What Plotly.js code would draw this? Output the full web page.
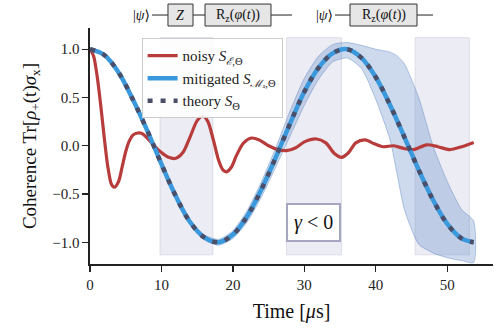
<!DOCTYPE html>
<html>
<head>
<meta charset="utf-8">
<script src="https://cdn.plot.ly/plotly-3.0.1.min.js"></script>
<style>
  html, body { margin: 0; padding: 0; background: #fff; }
  #graph { width: 498px; height: 332px; }
</style>
</head>
<body>
<div id="graph"></div>
<script>
// Values
const noisyTime = [0, 0.5, 1.0, 1.5, 2.0, 2.5, 3.0, 3.4, 4.0, 4.5, 5.0, 5.5, 6.0, 6.5, 7.2, 8.0, 9.0, 10.0,
  11.0, 12.0, 13.0, 14.0, 15.0, 15.8, 16.5, 17.3, 18.0, 18.6, 19.1, 19.8, 20.5, 21.5, 22.6, 23.7, 25.0,
  26.3, 27.5, 28.8, 30.0, 31.7, 33.0, 34.2, 35.2, 36.2, 37.2, 38.5, 39.8, 41.0, 42.5, 44.0, 45.3, 47.1,
  48.7, 50.3, 52.0, 53.7];
const noisyValues = [1.0, 0.93, 0.72, 0.42, 0.08, -0.22, -0.40, -0.43, -0.37, -0.22, -0.06, 0.05, 0.11, 0.13,
  0.13, 0.08, 0.0, -0.07, -0.12, -0.13, -0.07, 0.09, 0.26, 0.31, 0.25, 0.05, -0.15, -0.25, -0.27, -0.22,
  -0.10, 0.03, 0.08, 0.06, 0.0, -0.04, -0.05, -0.02, 0.04, 0.07, 0.03, -0.08, -0.12, -0.07, 0.03, 0.06,
  0.02, -0.01, 0.0, -0.03, -0.04, 0.01, -0.01, -0.04, -0.01, 0.035];

const time = [0, 2, 4, 6, 8, 10, 12, 14, 16, 18, 20, 22, 24, 26, 28, 30, 32, 34, 36, 38, 40, 42, 44, 46,
  48, 50, 52, 53.7];
const theoryValues = [1.00, 0.94, 0.76, 0.48, 0.16, -0.19, -0.52, -0.79, -0.95, -1.00, -0.92, -0.73, -0.45,
  -0.12, 0.23, 0.56, 0.81, 0.96, 1.00, 0.91, 0.71, 0.42, 0.09, -0.25, -0.56, -0.81, -0.96, -1.00];
const mitigatedValues = [1.00, 0.94, 0.76, 0.48, 0.16, -0.19, -0.52, -0.79, -0.95, -1.00, -0.92, -0.73, -0.45,
  -0.12, 0.23, 0.56, 0.81, 0.96, 1.00, 0.91, 0.71, 0.42, 0.09, -0.25, -0.56, -0.81, -0.96, -1.00];

const bandTime = [0, 2, 4, 6, 8, 10, 12, 14, 16, 18, 20, 22, 24, 26, 28, 30, 32, 34, 36, 38, 40, 42, 43,
  44, 46, 48, 50, 52, 53.7];
const bandUpper = [1.01, 0.95, 0.77, 0.49, 0.17, -0.18, -0.505, -0.77, -0.925, -0.97, -0.88, -0.67, -0.37,
  -0.02, 0.36, 0.70, 0.93, 1.05, 1.07, 1.04, 1.00, 0.97, 0.93, 0.85, 0.50, 0.0, -0.37, -0.66, -0.78];
const bandLower = [0.99, 0.93, 0.75, 0.47, 0.15, -0.20, -0.535, -0.81, -0.975, -1.03, -0.96, -0.79, -0.53,
  -0.22, 0.10, 0.42, 0.69, 0.87, 0.91, 0.80, 0.48, 0.06, -0.30, -0.66, -1.02, -1.11, -1.16, -1.19, -1.21];

// pulse windows (start, end) in microseconds
const windowStart = [9.8, 27.5, 45.5];
const windowEnd = [17.2, 35.2, 53.1];

const serif = 'Liberation Serif, DejaVu Serif, serif';

const bandTrace = {
  x: bandTime.concat(bandTime.slice().reverse()),
  y: bandUpper.concat(bandLower.slice().reverse()),
  type: 'scatter',
  mode: 'lines',
  fill: 'toself',
  fillcolor: 'rgba(70,120,190,0.27)',
  line: { color: 'rgba(80,125,190,0.4)', width: 1, shape: 'spline', smoothing: 0.6 },
  hoverinfo: 'skip',
  showlegend: false
};

const noisyTrace = {
  x: noisyTime,
  y: noisyValues,
  type: 'scatter',
  mode: 'lines',
  name: 'noisy <i>S</i><sub><i>ℰ</i>,Θ</sub>',
  line: { color: '#b83c3c', width: 3.2, shape: 'spline', smoothing: 0.8 }
};

const mitigatedTrace = {
  x: time,
  y: mitigatedValues,
  type: 'scatter',
  mode: 'lines',
  name: 'mitigated <i>S</i><sub><i>ℳ</i>ₐ,Θ</sub>',
  line: { color: '#3a99dc', width: 4.5, shape: 'spline' }
};

const theoryTrace = {
  x: time,
  y: theoryValues,
  type: 'scatter',
  mode: 'lines',
  name: 'theory <i>S</i><sub>Θ</sub>',
  line: { color: '#4a4e68', width: 4.5, dash: '5px,8px', shape: 'spline' }
};

const shapes = windowStart.map((s, i) => ({
  type: 'rect', xref: 'x', yref: 'y', layer: 'below',
  x0: s, x1: windowEnd[i], y0: -1.13, y1: 1.12,
  fillcolor: 'rgba(205,205,225,0.38)',
  line: { color: 'rgba(200,200,218,0.5)', width: 1 }
}));

// circuit sketches above the axes (paper coords)
const wireY = 1.055, boxTop = 1.1015, boxBot = 1.0085;
const wires = [[0.154, 0.1935], [0.2556, 0.2854], [0.4491, 0.5012], [0.6079, 0.6452], [0.8114, 0.8511]];
wires.forEach(w => shapes.push({
  type: 'line', xref: 'paper', yref: 'paper', x0: w[0], x1: w[1], y0: wireY, y1: wireY,
  line: { color: '#222', width: 1 }
}));
const boxes = [[0.1935, 0.2556], [0.2854, 0.4491], [0.6452, 0.8114]];
boxes.forEach(b => shapes.push({
  type: 'rect', xref: 'paper', yref: 'paper', x0: b[0], x1: b[1], y0: boxBot, y1: boxTop,
  fillcolor: '#e6e6e6', line: { color: '#333', width: 1 }
}));

const gateFont = { family: serif, size: 14, color: '#111' };
const annotations = [
  { text: '|<i>ψ</i>⟩', x: 0.129, y: wireY },
  { text: '<i>Z</i>', x: 0.2245, y: wireY },
  { text: 'R<sub>z</sub>(<i>φ</i>(<i>t</i>))', x: 0.3672, y: wireY },
  { text: '|<i>ψ</i>⟩', x: 0.5831, y: wireY },
  { text: 'R<sub>z</sub>(<i>φ</i>(<i>t</i>))', x: 0.7283, y: wireY }
].map(a => Object.assign({ xref: 'paper', yref: 'paper', showarrow: false,
  xanchor: 'center', yanchor: 'middle', font: gateFont }, a));

annotations.push({
  text: '<i>γ</i> < 0', x: 31.3, y: -0.79, xref: 'x', yref: 'y', showarrow: false,
  font: { family: serif, size: 20, color: '#111' },
  bgcolor: '#ffffff', bordercolor: '#a6a6c0', borderwidth: 2, borderpad: 6
});

const axisCommon = {
  showline: true, linecolor: '#222', linewidth: 1.6,
  ticks: 'outside', ticklen: 6, tickwidth: 1.3, tickcolor: '#222',
  showgrid: false, zeroline: false,
  tickfont: { family: serif, size: 15, color: '#222' }
};

const layout = {
  width: 498, height: 332,
  margin: { l: 90, r: 5, t: 28, b: 68 },
  paper_bgcolor: '#fff', plot_bgcolor: '#fff',
  font: { family: serif, color: '#222' },
  xaxis: Object.assign({}, axisCommon, {
    range: [0, 56.4], tickvals: [0, 10, 20, 30, 40, 50],
    title: { text: 'Time [<i>μ</i>s]', font: { family: serif, size: 20, color: '#111' }, standoff: 12 }
  }),
  yaxis: Object.assign({}, axisCommon, {
    range: [-1.225, 1.22], tickvals: [-1, -0.5, 0, 0.5, 1], tickformat: '.1f',
    title: { text: 'Coherence Tr[<i>ρ</i><sub>+</sub>(t)<i>σ</i><sub>x</sub>]',
      font: { family: serif, size: 19, color: '#111' }, standoff: 10 }
  }),
  legend: {
    x: 0.128, y: 0.956, xanchor: 'left', yanchor: 'top',
    bgcolor: 'rgba(255,255,255,0.9)', bordercolor: '#cccccc', borderwidth: 1,
    font: { family: serif, size: 15, color: '#222' },
    tracegroupgap: 0
  },
  shapes: shapes,
  annotations: annotations,
  showlegend: true
};

Plotly.newPlot('graph', [bandTrace, noisyTrace, mitigatedTrace, theoryTrace], layout,
  { displayModeBar: false, staticPlot: true });
</script>
</body>
</html>
